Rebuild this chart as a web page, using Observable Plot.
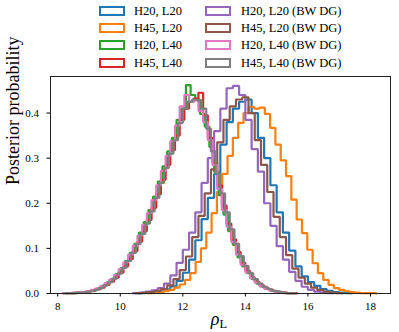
<!DOCTYPE html>
<html>
<head>
<meta charset="utf-8">
<script src="https://cdn.jsdelivr.net/npm/d3@7"></script>
<script src="https://cdn.jsdelivr.net/npm/@observablehq/plot@0.6"></script>
<style>
  html, body { margin: 0; padding: 0; background: #fff; }
  #wrap { width: 399px; font-family: "Liberation Serif", "DejaVu Serif", serif; color: #000; }
  #legend { position: relative; width: 399px; height: 72px; }
  .sw { position: absolute; width: 26px; height: 10px; box-sizing: border-box; border: 2px solid; }
  .lt { position: absolute; font-size: 12.5px; line-height: 14px; white-space: nowrap; }
</style>
</head>
<body>
<div id="wrap">
  <div id="legend"></div>
  <div id="chart"></div>
</div>
<script>
// Series labels (legend order) and colours
const seriesNames = [
  "H20, L20", "H45, L20", "H20, L40", "H45, L40",
  "H20, L20 (BW DG)", "H45, L20 (BW DG)", "H20, L40 (BW DG)", "H45, L40 (BW DG)"
];
const seriesColors = ["#1f77b4", "#ff7f0e", "#2ca02c", "#d62728", "#9467bd", "#8c564b", "#e377c2", "#7f7f7f"];

// Left edge of first bin and bin width for each series (same order as names)
const binStart = [10.6, 10.88, 8.2, 8.3, 10.4, 10.5, 8.15, 8.25];
const binWidth = [0.2, 0.17, 0.15, 0.15, 0.2, 0.2, 0.15, 0.15];

// Histogram densities
const h20l20 = [0.001,0.002,0.003,0.005,0.009,0.016,0.028,0.046,0.075,0.118,0.165,0.212,0.265,0.33,0.38,0.41,0.425,0.43,0.40,0.345,0.30,0.24,0.18,0.135,0.095,0.06,0.038,0.025,0.017,0.010,0.006,0.003,0.002,0.001];
const h45l20 = [0.001,0.002,0.003,0.005,0.008,0.013,0.020,0.030,0.045,0.070,0.100,0.135,0.178,0.225,0.265,0.305,0.345,0.378,0.40,0.414,0.41,0.412,0.398,0.367,0.33,0.295,0.26,0.208,0.164,0.134,0.097,0.067,0.045,0.030,0.019,0.012,0.008,0.005,0.003,0.002,0.001,0.001,0.001];
const h20l40 = [0.001,0.001,0.001,0.002,0.003,0.005,0.007,0.011,0.017,0.024,0.032,0.043,0.056,0.072,0.090,0.110,0.135,0.158,0.185,0.215,0.248,0.282,0.315,0.345,0.385,0.410,0.462,0.440,0.430,0.398,0.370,0.325,0.270,0.218,0.175,0.138,0.108,0.080,0.060,0.045,0.032,0.022,0.015,0.010,0.006,0.004,0.002,0.001,0.001];
const h45l40 = [0.001,0.001,0.002,0.002,0.004,0.006,0.009,0.013,0.019,0.026,0.035,0.046,0.060,0.076,0.094,0.115,0.138,0.163,0.190,0.220,0.252,0.285,0.318,0.350,0.385,0.410,0.425,0.432,0.445,0.395,0.345,0.290,0.240,0.195,0.155,0.120,0.092,0.068,0.050,0.036,0.026,0.018,0.012,0.008,0.005,0.003,0.002,0.001,0.001];
const h20l20bw = [0.001,0.002,0.004,0.007,0.012,0.022,0.040,0.068,0.097,0.135,0.18,0.245,0.30,0.36,0.41,0.455,0.46,0.44,0.385,0.32,0.27,0.20,0.15,0.105,0.075,0.048,0.028,0.015,0.008,0.004,0.002,0.001];
const h45l20bw = [0.001,0.002,0.003,0.006,0.010,0.018,0.032,0.052,0.082,0.125,0.172,0.222,0.275,0.335,0.385,0.415,0.43,0.435,0.40,0.34,0.285,0.225,0.17,0.125,0.085,0.055,0.035,0.022,0.013,0.008,0.004,0.002,0.001];
const h20l40bw = [0.001,0.001,0.002,0.002,0.003,0.005,0.008,0.011,0.016,0.023,0.031,0.041,0.054,0.069,0.086,0.106,0.128,0.152,0.178,0.207,0.240,0.272,0.305,0.338,0.372,0.415,0.440,0.425,0.428,0.405,0.380,0.340,0.285,0.232,0.185,0.148,0.114,0.086,0.064,0.047,0.034,0.024,0.016,0.011,0.007,0.004,0.002,0.001,0.001];
const h45l40bw = [0.001,0.001,0.002,0.002,0.003,0.005,0.008,0.012,0.018,0.025,0.033,0.044,0.057,0.072,0.090,0.110,0.132,0.155,0.182,0.212,0.245,0.278,0.310,0.340,0.378,0.410,0.425,0.430,0.428,0.410,0.365,0.315,0.265,0.222,0.180,0.142,0.110,0.083,0.061,0.045,0.032,0.022,0.015,0.010,0.006,0.004,0.002,0.001,0.001];

const xTicks = [8, 10, 12, 14, 16, 18];
const yTicks = [0, 0.1, 0.2, 0.3, 0.4];

const allValues = [h20l20, h45l20, h20l40, h45l40, h20l20bw, h45l20bw, h20l40bw, h45l40bw];

// Build step outlines (like matplotlib histtype="step")
const points = [];
allValues.forEach((vals, s) => {
  const name = seriesNames[s], x0 = binStart[s], w = binWidth[s];
  points.push({name, x: x0, y: 0});
  vals.forEach((v, i) => points.push({name, x: x0 + i * w, y: v}));
  const xe = x0 + vals.length * w;
  points.push({name, x: xe, y: vals[vals.length - 1]});
  points.push({name, x: xe, y: 0});
});

// Legend
const legend = document.getElementById("legend");
const rowCenters = [10.5, 27.8, 45, 62.5];
seriesNames.forEach((n, i) => {
  const col = Math.floor(i / 4), row = i % 4;
  const sw = document.createElement("div");
  sw.className = "sw";
  sw.style.left = (col ? 205 : 99) + "px";
  sw.style.top = (rowCenters[row] - 5) + "px";
  sw.style.borderColor = seriesColors[i];
  legend.appendChild(sw);
  const t = document.createElement("div");
  t.className = "lt";
  t.style.left = (col ? 241 : 134) + "px";
  t.style.top = (rowCenters[row] - 7) + "px";
  t.textContent = n;
  legend.appendChild(t);
});

const chart = Plot.plot({
  width: 399,
  height: 260,
  marginLeft: 50,
  marginRight: 9,
  marginTop: 4,
  marginBottom: 39,
  style: {fontFamily: "Liberation Serif", fontSize: "11px", color: "#000", background: "#fff", overflow: "visible"},
  x: {domain: [7.77, 18.64]},
  y: {domain: [0, 0.481]},
  color: {domain: seriesNames, range: seriesColors},
  marks: [
    Plot.line(points, {x: "x", y: "y", z: "name", stroke: "name", curve: "step-after", strokeWidth: 2.2, strokeLinejoin: "miter"}),
    Plot.frame({stroke: "#222", strokeWidth: 1}),
    Plot.axisX({ticks: xTicks, tickSize: 3.5, tickPadding: 5, label: null, fontSize: 11}),
    Plot.axisY({ticks: yTicks, tickSize: 3.5, tickPadding: 8, tickFormat: d3.format(".1f"), label: null, fontSize: 11}),
    Plot.text(["Posterior probability"], {frameAnchor: "left", dx: -37, rotate: -90, fontSize: 18, fill: "#000"})
  ]
});
document.getElementById("chart").appendChild(chart);

// x-axis label: rho with subscript L
const svg = d3.select(chart);
const xl = svg.append("text")
  .attr("x", 219).attr("y", 253)
  .attr("text-anchor", "middle")
  .attr("font-family", "Liberation Serif")
  .attr("font-size", 18)
  .attr("fill", "#000");
xl.append("tspan").attr("font-style", "italic").text("ρ");
xl.append("tspan").attr("font-size", 12.5).attr("dy", 3).text("L");
</script>
</body>
</html>
